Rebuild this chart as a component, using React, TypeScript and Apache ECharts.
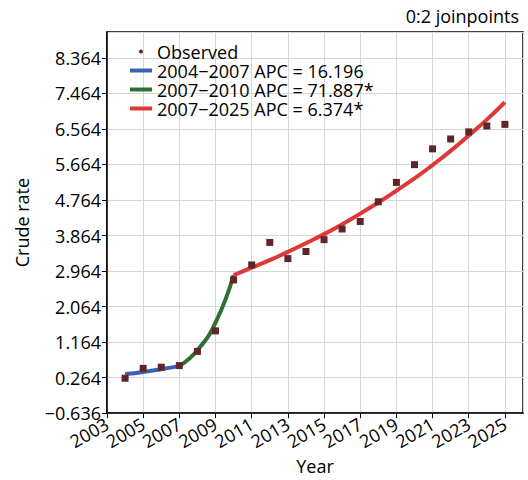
import React, { useEffect, useRef } from "react";
import * as echarts from "echarts";

const years = [2004, 2005, 2006, 2007, 2008, 2009, 2010, 2011, 2012, 2013, 2014, 2015, 2016, 2017, 2018, 2019, 2020, 2021, 2022, 2023, 2024, 2025];
const observed = [0.25, 0.50, 0.53, 0.57, 0.93, 1.45, 2.74, 3.12, 3.69, 3.28, 3.46, 3.76, 4.03, 4.22, 4.72, 5.21, 5.66, 6.06, 6.31, 6.49, 6.64, 6.68];

const seg1Years = [2004, 2005, 2006, 2007];
const seg1Values = [0.355, 0.41, 0.48, 0.557];
const seg2Years = [2007, 2008, 2009, 2010];
const seg2Values = [0.557, 0.96, 1.66, 2.86];
const seg3Years = [2010, 2011, 2012, 2013, 2014, 2015, 2016, 2017, 2018, 2019, 2020, 2021, 2022, 2023, 2024, 2025];
const seg3Values = [2.86, 3.05, 3.24, 3.45, 3.67, 3.9, 4.15, 4.42, 4.7, 5.0, 5.31, 5.65, 6.01, 6.4, 6.8, 7.24];

const seriesNames = ["Observed", "2004\u22122007 APC = 16.196", "2007\u22122010 APC = 71.887*", "2007\u22122025 APC = 6.374*"];
const seriesColors = ["#5e2626", "#3a62b4", "#2f6e34", "#e03838"];

const xStart = 2003;
const xEnd = 2026;
const yStart = -0.636;
const yEnd = 9.02;
const yStep = 0.9;

const FONT = "'Open Sans', sans-serif";

const pts = (xs: number[], ys: number[]) => xs.map((x, i) => [x - xStart, ys[i] - yStart]);

export default function App() {
  const ref = useRef<HTMLDivElement>(null);
  useEffect(() => {
    document.body.style.margin = "0";
    const chart = echarts.init(ref.current!, null, { renderer: "svg" });
    const lineSeries = (name: string, color: string, data: number[][]) => ({
      name,
      type: "line",
      data,
      smooth: true,
      showSymbol: false,
      symbol: "none",
      lineStyle: { color, width: 4 },
      itemStyle: { color },
      z: 2,
    });
    chart.setOption({
      animation: false,
      textStyle: { fontFamily: FONT },
      title: {
        text: "0:2 joinpoints",
        right: 4,
        top: 2,
        textStyle: { fontFamily: FONT, fontSize: 18, fontWeight: "normal", color: "#000" },
      },
      grid: {
        left: 107,
        right: 5,
        top: 32,
        bottom: 63,
        show: true,
        borderColor: "#000",
        borderWidth: 1.5,
        backgroundColor: "transparent",
      },
      legend: {
        orient: "vertical",
        left: 125,
        top: 37,
        itemWidth: 22,
        itemHeight: 4,
        itemGap: 0,
        icon: "rect",
        textStyle: { fontFamily: FONT, fontSize: 18, color: "#000", lineHeight: 19 },
        data: [
          { name: seriesNames[0], icon: "circle" },
          { name: seriesNames[1] },
          { name: seriesNames[2] },
          { name: seriesNames[3] },
        ],
      },
      xAxis: {
        type: "value",
        min: 0,
        max: xEnd - xStart,
        interval: 2,
        name: "Year",
        nameLocation: "middle",
        nameGap: 38,
        nameTextStyle: { fontFamily: FONT, fontSize: 18, color: "#000" },
        axisLine: { show: true, lineStyle: { color: "#000", width: 1.5 } },
        axisTick: { show: true, length: 5, lineStyle: { color: "#000" } },
        axisLabel: {
          rotate: 30,
          margin: 9,
          fontFamily: FONT,
          fontSize: 18,
          color: "#000",
          showMaxLabel: false,
          formatter: (v: number) => String(Math.round(v + xStart)),
        },
        splitLine: { show: true, lineStyle: { color: "#d6d6d6", width: 1 } },
      },
      yAxis: {
        type: "value",
        min: 0,
        max: yEnd - yStart,
        interval: yStep,
        name: "Crude rate",
        nameLocation: "middle",
        nameGap: 76,
        nameTextStyle: { fontFamily: FONT, fontSize: 18, color: "#000" },
        axisLine: { show: true, lineStyle: { color: "#000", width: 1.5 } },
        axisTick: { show: true, length: 5, lineStyle: { color: "#000" } },
        axisLabel: {
          margin: 6,
          fontFamily: FONT,
          fontSize: 18,
          color: "#000",
          showMaxLabel: false,
          formatter: (v: number) => {
            const val = v + yStart;
            const s = Math.abs(val).toFixed(3);
            return val < -0.0001 ? "\u2212" + s : s;
          },
        },
        splitLine: { show: true, lineStyle: { color: "#d6d6d6", width: 1 } },
      },
      series: [
        {
          name: seriesNames[0],
          type: "scatter",
          data: pts(years, observed),
          symbol: "rect",
          symbolSize: 7,
          itemStyle: { color: seriesColors[0], opacity: 1 },
          z: 5,
        },
        lineSeries(seriesNames[1], seriesColors[1], pts(seg1Years, seg1Values)),
        lineSeries(seriesNames[2], seriesColors[2], pts(seg2Years, seg2Values)),
        lineSeries(seriesNames[3], seriesColors[3], pts(seg3Years, seg3Values)),
      ],
    });
    return () => chart.dispose();
  }, []);
  return <div ref={ref} style={{ width: 528, height: 480 }} />;
}
